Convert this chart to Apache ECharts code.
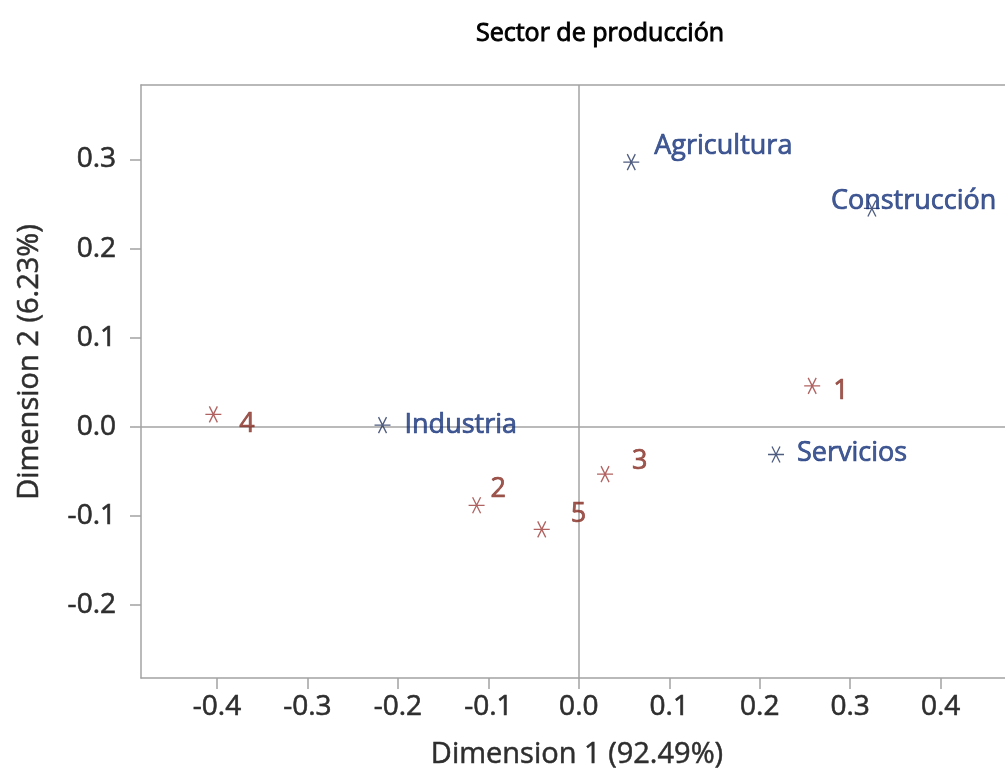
<!DOCTYPE html>
<html>
<head>
<meta charset="utf-8">
<script src="https://cdn.jsdelivr.net/npm/echarts@6/dist/echarts.min.js"></script>
<style>
  html, body { margin: 0; padding: 0; background: #fff; }
  #chart { width: 1005px; height: 781px; }
</style>
</head>
<body>
<div id="chart"></div>
<script>
// Row profiles (sectors) on the first two dimensions
const rowNames = ['Agricultura', 'Industria', 'Construcción', 'Servicios'];
const rowDim1 = [0.058, -0.217, 0.324, 0.218];
const rowDim2 = [0.297, 0.002, 0.245, -0.031];

// Column profiles (categories 1-5)
const colNames = ['1', '2', '3', '4', '5'];
const colDim1 = [0.258, -0.113, 0.029, -0.404, -0.041];
const colDim2 = [0.046, -0.088, -0.053, 0.014, -0.115];

// Tick values
const xTicks = [-0.4, -0.3, -0.2, -0.1, 0.0, 0.1, 0.2, 0.3, 0.4];
const yTicks = [-0.2, -0.1, 0.0, 0.1, 0.2, 0.3];

// Label placement around each marker: [dx, dy] from the marker centre
const labelShift = {
  'Agricultura': [23, -16],
  'Industria': [22, 0],
  'Construcción': [-41, -7],
  'Servicios': [21, -1],
  '1': [21, 5],
  '2': [14, -16],
  '3': [27, -13],
  '4': [26, 10],
  '5': [29, -15]
};

const FONT = '"Open Sans", "Noto Sans", sans-serif';
const BLUE_MARK = '#22335f';
const BLUE_TEXT = '#15327a';
const RED_MARK = '#9c3b38';
const RED_TEXT = '#872f25';
const AXIS_GRAY = '#a3a3a3';
const TEXT_GRAY = '#2e2e2e';

// Six-armed asterisk marker
const STAR = 'path://M0,5L10,5M2.5,0.67L7.5,9.33M7.5,0.67L2.5,9.33';

// Slightly heavier strokes for text
function heavy(color, w) {
  return { color: color, textBorderColor: color, textBorderWidth: w };
}

function buildPoints(names, d1, d2, textColor) {
  return names.map((n, i) => {
    const s = labelShift[n] || [20, 0];
    return {
      name: n,
      value: [d1[i], d2[i]],
      label: Object.assign({
        show: true,
        position: 'inside',
        align: 'left',
        verticalAlign: 'middle',
        offset: s,
        formatter: n,
        fontFamily: FONT,
        fontSize: 27
      }, heavy(textColor, 0.7))
    };
  });
}

const chart = echarts.init(document.getElementById('chart'), null, { renderer: 'canvas' });

const fmt = v => v.toFixed(1);
const X_MIN = -0.484, X_MAX = 0.48;
const frameLine = { show: true, onZero: false, lineStyle: { color: AXIS_GRAY, width: 1.5 } };

chart.setOption({
  animation: false,
  backgroundColor: '#fff',
  title: {
    text: 'Sector de producción',
    left: 595,
    top: 16,
    textAlign: 'center',
    textStyle: Object.assign({ fontFamily: FONT, fontSize: 25, fontWeight: 'normal' }, heavy('#000', 0.9))
  },
  grid: {
    left: 141,
    top: 85,
    width: 872,
    bottom: 103,
    show: false,
    containLabel: false,
    outerBoundsMode: 'none'
  },
  xAxis: [
    {
      type: 'value',
      position: 'bottom',
      min: X_MIN,
      max: X_MAX,
      name: 'Dimension 1 (92.49%)',
      nameLocation: 'middle',
      nameGap: 62,
      nameTextStyle: Object.assign({ fontFamily: FONT, fontSize: 29 }, heavy(TEXT_GRAY, 0.5)),
      axisLine: frameLine,
      axisTick: { show: true, inside: false, length: 11, customValues: xTicks, lineStyle: { color: AXIS_GRAY, width: 1.5 } },
      axisLabel: Object.assign({ customValues: xTicks, formatter: fmt, margin: 15, fontFamily: FONT, fontSize: 28 }, heavy(TEXT_GRAY, 0.6)),
      splitLine: { show: false }
    },
    {
      // top edge of the plot frame
      type: 'value',
      position: 'top',
      min: X_MIN,
      max: X_MAX,
      axisLine: frameLine,
      axisTick: { show: false },
      axisLabel: { show: false },
      splitLine: { show: false }
    }
  ],
  yAxis: {
    type: 'value',
    min: -0.2817,
    max: 0.3835,
    axisLine: frameLine,
    axisTick: { show: true, inside: false, length: 11, customValues: yTicks, lineStyle: { color: AXIS_GRAY, width: 1.5 } },
    axisLabel: Object.assign({ customValues: yTicks, formatter: fmt, margin: 25, fontFamily: FONT, fontSize: 28 }, heavy(TEXT_GRAY, 0.6)),
    splitLine: { show: false }
  },
  graphic: [{
    type: 'text',
    x: 30,
    y: 362,
    rotation: Math.PI / 2,
    style: {
      text: 'Dimension 2 (6.23%)',
      fontFamily: FONT,
      fontSize: 29,
      fill: TEXT_GRAY,
      stroke: TEXT_GRAY,
      lineWidth: 0.5,
      align: 'center',
      verticalAlign: 'middle'
    }
  }],
  series: [
    {
      name: 'Sector',
      type: 'scatter',
      symbol: STAR,
      symbolSize: 16,
      itemStyle: { color: 'rgba(0,0,0,0)', borderColor: BLUE_MARK, borderWidth: 1.3 },
      data: buildPoints(rowNames, rowDim1, rowDim2, BLUE_TEXT),
      z: 3,
      markLine: {
        silent: true,
        symbol: 'none',
        label: { show: false },
        lineStyle: { color: AXIS_GRAY, width: 1.5, type: 'solid' },
        data: [{ xAxis: 0 }, { yAxis: 0 }],
        z: 1
      }
    },
    {
      name: 'Categoría',
      type: 'scatter',
      symbol: STAR,
      symbolSize: 16,
      itemStyle: { color: 'rgba(0,0,0,0)', borderColor: RED_MARK, borderWidth: 1.3 },
      data: buildPoints(colNames, colDim1, colDim2, RED_TEXT),
      z: 3
    }
  ]
});
</script>
</body>
</html>
